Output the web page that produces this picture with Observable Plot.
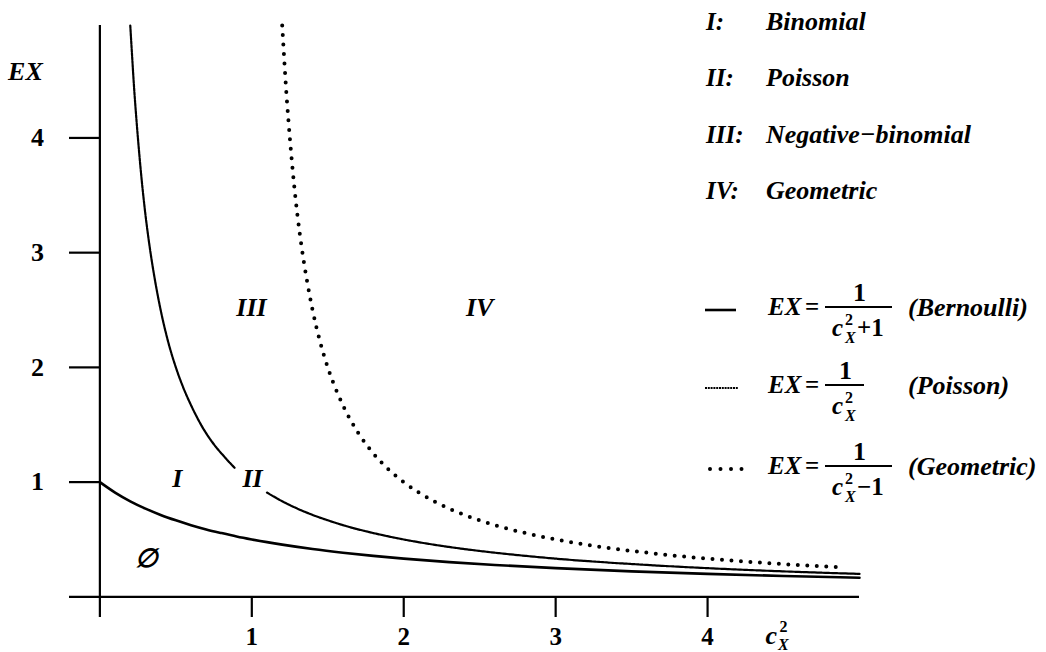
<!DOCTYPE html>
<html>
<head>
<meta charset="utf-8">
<script src="https://cdn.jsdelivr.net/npm/d3@7"></script>
<script src="https://cdn.jsdelivr.net/npm/@observablehq/plot@0.6"></script>
<style>
  html, body { margin: 0; padding: 0; background: #fff; }
  #wrap { position: relative; width: 1046px; height: 652px; overflow: hidden; }
  #wrap svg { position: absolute; left: 0; top: 0; overflow: visible; }
</style>
</head>
<body>
<div id="wrap"></div>
<script>
// ---- data ----
const xTicks = [1, 2, 3, 4];
const yTicks = [1, 2, 3, 4];

// EX = 1/(c^2+1)  (Bernoulli) – solid
const bernX = [0, 0.1, 0.2, 0.3, 0.4, 0.5, 0.6, 0.7, 0.8, 0.9, 1.0, 1.2, 1.4, 1.6, 1.8, 2.0, 2.3, 2.6, 3.0, 3.5, 4.0, 4.5, 5.0];
const bernY = [1, 0.909, 0.833, 0.769, 0.714, 0.667, 0.625, 0.588, 0.556, 0.526, 0.500, 0.455, 0.417, 0.385, 0.357, 0.333, 0.303, 0.278, 0.250, 0.222, 0.200, 0.182, 0.167];

// EX = 1/c^2  (Poisson) – fine dotted, interrupted around the "II" label
const poisX = [0.2, 0.21, 0.225, 0.24, 0.26, 0.28, 0.3, 0.33, 0.36, 0.4, 0.45, 0.5, 0.55, 0.6, 0.67, 0.75, 0.82, 0.89,
               1.1, 1.2, 1.3, 1.4, 1.5, 1.65, 1.8, 2.0, 2.25, 2.5, 2.75, 3.0, 3.5, 4.0, 4.5, 5.0];
const poisY = [4.98, 4.76, 4.44, 4.17, 3.85, 3.57, 3.33, 3.03, 2.78, 2.50, 2.22, 2.00, 1.82, 1.67, 1.49, 1.33, 1.22, 1.12,
               0.909, 0.833, 0.769, 0.714, 0.667, 0.606, 0.556, 0.500, 0.444, 0.400, 0.364, 0.333, 0.286, 0.250, 0.222, 0.200];
const poisSeg = [0,0,0,0,0,0,0,0,0,0,0,0,0,0,0,0,0,0, 1,1,1,1,1,1,1,1,1,1,1,1,1,1,1,1];

// EX = 1/(c^2-1)  (Geometric) – big dots
const geomX = [1.2, 1.21, 1.225, 1.24, 1.26, 1.28, 1.3, 1.33, 1.36, 1.4, 1.45, 1.5, 1.6, 1.7, 1.8, 1.9, 2.0, 2.2, 2.4, 2.6, 2.8, 3.0, 3.3, 3.6, 4.0, 4.4, 4.9];
const geomY = [4.98, 4.76, 4.44, 4.17, 3.85, 3.57, 3.33, 3.03, 2.78, 2.50, 2.22, 2.00, 1.67, 1.43, 1.25, 1.11, 1.00, 0.833, 0.714, 0.625, 0.556, 0.500, 0.435, 0.385, 0.333, 0.294, 0.256];

// region labels
const regionText = ["I", "II", "III", "IV", "\u2205"];
const regionX = [0.51, 1.005, 0.998, 2.50, 0.31];
const regionY = [1.03, 1.03, 2.52, 2.52, 0.33];

// legend texts
const legendRoman = ["I:", "II:", "III:", "IV:"];
const legendNames = ["Binomial", "Poisson", "Negative\u2212binomial", "Geometric"];
const formulaDen = ["+1", "", "\u22121"];
const formulaNames = ["(Bernoulli)", "(Poisson)", "(Geometric)"];
const formulaStyles = ["solid", "fine", "dots"];

// ---- tables ----
const bern = bernX.map((x, i) => ({x, y: bernY[i]}));
const pois = poisX.map((x, i) => ({x, y: poisY[i], seg: poisSeg[i]}));
const geom = geomX.map((x, i) => ({x, y: geomY[i]}));
const regions = regionText.map((t, i) => ({t, x: regionX[i], y: regionY[i]}));

const FONT = "'Liberation Serif', 'Times New Roman', serif";

const plot = Plot.plot({
  width: 1046,
  height: 652,
  margin: 0,
  x: {domain: [-0.2, 5], range: [69, 859], axis: null},
  y: {domain: [-0.18, 4.98], range: [617, 25], axis: null},
  style: {fontFamily: FONT, background: "transparent", overflow: "visible"},
  marks: [
    // axes
    Plot.ruleX([0], {y1: -0.18, y2: 4.98, strokeWidth: 2.2, stroke: "#000"}),
    Plot.ruleY([0], {x1: -0.2, x2: 5, strokeWidth: 2.2, stroke: "#000"}),
    Plot.ruleY(yTicks, {y: d => d, x1: -0.2, x2: 0, strokeWidth: 2.2, stroke: "#000"}),
    Plot.ruleX(xTicks, {x: d => d, y1: 0, y2: -0.18, strokeWidth: 2.2, stroke: "#000"}),
    Plot.text(yTicks, {x: -0.2, y: d => d, text: d => String(d), dx: -32, fontSize: 26, fontWeight: "bold", fill: "#000"}),
    Plot.text(xTicks, {x: d => d, y: -0.18, text: d => String(d), dy: 19, fontSize: 25, fontWeight: "bold", fill: "#000"}),
    // axis titles
    Plot.text([0], {x: -0.49, y: 4.58, text: () => "EX", fontSize: 26, fontWeight: "bold", fontStyle: "italic", fill: "#000"}),
    Plot.text([0], {x: 4.42, y: -0.18, text: () => "c", dy: 26, lineAnchor: "bottom", fontSize: 26, fontWeight: "bold", fontStyle: "italic", fill: "#000"}),
    Plot.text([0], {x: 4.42, y: -0.18, text: () => "2", dx: 12, dy: 14, lineAnchor: "bottom", fontSize: 16, fontWeight: "bold", fill: "#000"}),
    Plot.text([0], {x: 4.42, y: -0.18, text: () => "X", dx: 12, dy: 32, lineAnchor: "bottom", fontSize: 16, fontWeight: "bold", fontStyle: "italic", fill: "#000"}),
    // curves
    Plot.line(bern, {x: "x", y: "y", stroke: "#000", strokeWidth: 2.6, curve: "monotone-x"}),
    Plot.line(pois, {x: "x", y: "y", z: "seg", stroke: "#000", strokeWidth: 2.2, strokeDasharray: "3,0.9", curve: "monotone-x"}),
    Plot.line(geom, {x: "x", y: "y", stroke: "#000", strokeWidth: 4, strokeDasharray: "0,9.5", strokeLinecap: "round", curve: "monotone-x"}),
    // region labels
    Plot.text(regions, {x: "x", y: "y", text: "t", fontSize: 26, fontWeight: "bold", fontStyle: "italic", fill: "#000"})
  ]
});

const wrap = document.getElementById("wrap");
wrap.appendChild(plot);

// ---- legend (to the right of the plot area) ----
const lg = d3.select(wrap).append("svg")
  .attr("width", 1046).attr("height", 652)
  .style("font-family", FONT)
  .style("pointer-events", "none");

const topBase = [30, 86, 143, 199];
legendRoman.forEach((r, i) => {
  lg.append("text").attr("x", 706).attr("y", topBase[i])
    .attr("font-size", 25).attr("font-weight", "bold").attr("font-style", "italic").text(r);
  lg.append("text").attr("x", 766).attr("y", topBase[i])
    .attr("font-size", 26).attr("font-weight", "bold").attr("font-style", "italic").text(legendNames[i]);
});

const barY = [307, 385, 466];
const barEnd = [892, 864, 892];
formulaNames.forEach((name, i) => {
  const by = barY[i];
  // sample line
  const ln = lg.append("line").attr("y1", by + 3).attr("y2", by + 3).attr("stroke", "#000");
  if (formulaStyles[i] === "solid") ln.attr("x1", 705).attr("x2", 736).attr("stroke-width", 2.6);
  else if (formulaStyles[i] === "fine") ln.attr("x1", 705).attr("x2", 738).attr("stroke-width", 2).attr("stroke-dasharray", "2,0.8");
  else ln.attr("x1", 710).attr("x2", 743).attr("stroke-width", 4).attr("stroke-dasharray", "0,10.5").attr("stroke-linecap", "round");
  // EX =
  lg.append("text").attr("x", 768).attr("y", by + 8)
    .attr("font-size", 25).attr("font-weight", "bold").attr("font-style", "italic").text("EX");
  lg.append("text").attr("x", 805).attr("y", by + 8)
    .attr("font-size", 25).attr("font-weight", "bold").text("=");
  // fraction bar
  lg.append("line").attr("x1", 825).attr("x2", barEnd[i]).attr("y1", by).attr("y2", by)
    .attr("stroke", "#000").attr("stroke-width", 1.8);
  // numerator
  lg.append("text").attr("x", (825 + barEnd[i]) / 2 + 1).attr("y", by - 6)
    .attr("text-anchor", "middle").attr("font-size", 26).attr("font-weight", "bold").text("1");
  // denominator
  lg.append("text").attr("x", 832).attr("y", by + 29)
    .attr("font-size", 25).attr("font-weight", "bold").attr("font-style", "italic").text("c");
  lg.append("text").attr("x", 845).attr("y", by + 18)
    .attr("font-size", 16).attr("font-weight", "bold").text("2");
  lg.append("text").attr("x", 845).attr("y", by + 36)
    .attr("font-size", 16).attr("font-weight", "bold").attr("font-style", "italic").text("X");
  if (formulaDen[i]) {
    lg.append("text").attr("x", 857).attr("y", by + 29)
      .attr("font-size", 25).attr("font-weight", "bold").text(formulaDen[i]);
  }
  // name
  lg.append("text").attr("x", 908).attr("y", by + 9)
    .attr("font-size", 26).attr("font-weight", "bold").attr("font-style", "italic").text(name);
});
</script>
</body>
</html>
